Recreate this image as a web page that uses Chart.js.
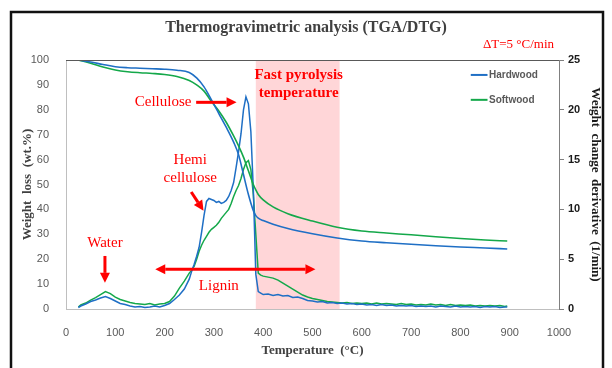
<!DOCTYPE html>
<html><head><meta charset="utf-8">
<script src="https://cdn.jsdelivr.net/npm/chart.js@4.4.0/dist/chart.umd.min.js"></script>
<style>html,body{margin:0;padding:0;background:#fff;}canvas{display:block;}</style>
</head><body>
<canvas id="c" width="612" height="368"></canvas>
<script>
const chartTitle = 'Thermogravimetric analysis (TGA/DTG)';
const seriesNames = ['Hardwood', 'Softwood'];
const xAxisTitle = 'Temperature  (\u00B0C)';
const leftAxisTitle = 'Weight  loss  (wt.%)';
const rightAxisTitle = 'Weight  change  derivative  (1/min)';
const heatingRateNote = '\u0394T=5 \u00B0C/min';

// TGA (left axis, wt.%)
const tgaTemperature = [25, 50, 75, 100, 125, 150, 175, 200, 225, 250, 265, 280, 295, 310, 325, 340, 350, 360, 370, 380, 385, 390, 400, 420, 450, 500, 550, 600, 650, 700, 750, 800, 850, 895];
const hardwoodTGA = [100, 99.2, 98.2, 97.3, 96.9, 96.7, 96.5, 96.3, 95.9, 95.0, 92.8, 89.2, 84.0, 78.5, 73.0, 67.0, 62.0, 54.0, 46.0, 39.5, 37.5, 36.5, 35.5, 34.0, 32.3, 30.2, 28.5, 27.3, 26.6, 26.0, 25.4, 24.9, 24.5, 24.1];
const softwoodTGA = [100, 98.7, 97.2, 96.0, 95.3, 94.9, 94.6, 94.2, 93.4, 91.8, 90.0, 87.5, 83.3, 79.5, 75.0, 69.5, 65.5, 61.0, 55.5, 50.0, 47.8, 46.0, 43.8, 41.0, 38.3, 35.3, 32.8, 31.3, 30.5, 29.8, 29.0, 28.3, 27.7, 27.3];

// DTG (right axis, 1/min)
const dtgTemperature = [25, 30, 40, 50, 60, 70, 80, 90, 100, 110, 120, 130, 140, 150, 160, 170, 180, 190, 200, 210, 220, 230, 240, 250,
  255, 260, 265, 270, 275, 280, 285, 290, 295, 300, 305, 310, 315, 320, 325, 330, 335, 340, 345, 350, 355, 360, 365, 370, 375, 380, 385, 390, 395, 400,
  410, 420, 430, 440, 450, 460, 470, 480, 490, 500, 510, 520, 530, 540, 550, 560, 570, 580, 590, 600, 610, 620, 630, 640, 650, 660, 670, 680, 690, 700,
  710, 720, 730, 740, 750, 760, 770, 780, 790, 800, 810, 820, 830, 840, 850, 860, 870, 880, 890, 895];
const hardwoodDTG = [0.15, 0.3, 0.5, 0.75, 0.9, 1.1, 1.25, 1.05, 0.8, 0.55, 0.45, 0.3, 0.2, 0.25, 0.15, 0.2, 0.3, 0.2, 0.35, 0.55, 0.95, 1.4, 2.0, 3.0,
  3.8, 4.5, 5.3, 6.2, 7.7, 9.4, 10.8, 11.1, 11.0, 10.9, 10.7, 10.8, 10.6, 10.7, 10.9, 11.3, 11.9, 12.7, 14.2, 15.8, 17.6, 20.0, 21.3, 20.6, 17.8, 12.0, 3.5, 1.75, 1.6, 1.45,
  1.5, 1.35, 1.45, 1.3, 1.35, 1.15, 1.2, 1.05, 0.85, 0.8, 0.7, 0.75, 0.6, 0.65, 0.55, 0.6, 0.5, 0.55, 0.45, 0.5, 0.4, 0.45, 0.35, 0.45, 0.35, 0.4, 0.3, 0.35, 0.3, 0.35,
  0.25, 0.3, 0.25, 0.3, 0.2, 0.3, 0.25, 0.2, 0.3, 0.2, 0.25, 0.2, 0.25, 0.15, 0.25, 0.2, 0.25, 0.15, 0.2, 0.2];
const softwoodDTG = [0.2, 0.4, 0.6, 0.9, 1.15, 1.45, 1.75, 1.55, 1.2, 0.95, 0.8, 0.65, 0.55, 0.5, 0.45, 0.55, 0.4, 0.5, 0.55, 0.75, 1.3, 2.1, 2.8, 3.6,
  3.9, 4.3, 5.0, 5.8, 6.4, 6.9, 7.3, 7.7, 8.0, 8.2, 8.4, 8.7, 9.1, 9.4, 9.7, 10.0, 10.6, 11.3, 11.9, 12.4, 13.1, 14.0, 14.7, 14.9, 14.0, 11.5, 7.5, 3.6, 3.4, 3.3,
  3.2, 3.1, 2.9, 2.6, 2.3, 2.0, 1.7, 1.4, 1.2, 1.05, 0.95, 0.85, 0.75, 0.7, 0.65, 0.6, 0.65, 0.55, 0.6, 0.55, 0.6, 0.5, 0.6, 0.5, 0.55, 0.5, 0.45, 0.55, 0.45, 0.5,
  0.4, 0.45, 0.4, 0.5, 0.4, 0.45, 0.35, 0.45, 0.35, 0.4, 0.35, 0.4, 0.3, 0.35, 0.3, 0.35, 0.3, 0.35, 0.25, 0.3];

const fastPyrolysisRange = [385, 555];

const BLUE = '#1F6FC5';
const GREEN = '#14A84A';
const RED = '#FF0000';

const pts = (xs, ys) => xs.map((x, i) => ({x: x, y: ys[i]}));

function arrowHead(ctx, x2, y2, ang, len, wid) {
  const bx = x2 - len * Math.cos(ang), by = y2 - len * Math.sin(ang);
  ctx.beginPath();
  ctx.moveTo(x2, y2);
  ctx.lineTo(bx + wid / 2 * Math.sin(ang), by - wid / 2 * Math.cos(ang));
  ctx.lineTo(bx - wid / 2 * Math.sin(ang), by + wid / 2 * Math.cos(ang));
  ctx.closePath();
  ctx.fill();
  return [bx, by];
}
function arrow(ctx, x1, y1, x2, y2, both) {
  const ang = Math.atan2(y2 - y1, x2 - x1);
  const len = 10, wid = 10;
  const b = arrowHead(ctx, x2, y2, ang, len, wid);
  let s = [x1, y1];
  if (both) s = arrowHead(ctx, x1, y1, ang + Math.PI, len, wid);
  ctx.beginPath(); ctx.moveTo(s[0], s[1]); ctx.lineTo(b[0], b[1]); ctx.stroke();
}

const decorations = {
  id: 'decorations',
  beforeDraw(chart) {
    const {ctx, width, height} = chart;
    ctx.save();
    ctx.fillStyle = '#ffffff';
    ctx.fillRect(0, 0, width, height);
    ctx.strokeStyle = '#111';
    ctx.lineWidth = 2.5;
    ctx.strokeRect(11, 12, 592, 400);
    ctx.restore();
  },
  beforeDatasetsDraw(chart) {
    const {ctx, chartArea} = chart;
    const xs = chart.scales.x;
    const x1 = xs.getPixelForValue(fastPyrolysisRange[0]);
    const x2 = xs.getPixelForValue(fastPyrolysisRange[1]);
    ctx.save();
    ctx.fillStyle = '#FFD6D8';
    ctx.fillRect(x1, chartArea.top + 1, x2 - x1, chartArea.bottom - chartArea.top - 1);
    ctx.restore();
  },
  afterDatasetsDraw(chart) {
    const {ctx, chartArea} = chart;
    const px = v => chart.scales.x.getPixelForValue(v);
    const py = v => chart.scales.y.getPixelForValue(v);
    ctx.save();
    // top frame line
    ctx.strokeStyle = '#595959'; ctx.lineWidth = 1;
    ctx.beginPath(); ctx.moveTo(chartArea.left, chartArea.top + 0.5); ctx.lineTo(chartArea.right, chartArea.top + 0.5); ctx.stroke();

    ctx.fillStyle = RED; ctx.strokeStyle = RED; ctx.lineWidth = 3;
    ctx.textAlign = 'center'; ctx.textBaseline = 'middle';
    ctx.font = '15px "Liberation Serif"';
    ctx.fillText('Cellulose', px(197), py(83));
    arrow(ctx, px(264), py(83), px(346), py(83));
    ctx.fillText('Hemi', px(252), py(59.8));
    ctx.fillText('cellulose', px(252), py(52.6));
    arrow(ctx, px(254), py(47), px(279), py(39.5));
    ctx.fillText('Water', px(79), py(26.5));
    arrow(ctx, px(79), py(21.3), px(79), py(10.5));
    arrow(ctx, px(181), py(16), px(506), py(16), true);
    ctx.fillText('Lignin', px(310), py(9.2));
    ctx.font = 'bold 15px "Liberation Serif"';
    ctx.fillText('Fast pyrolysis', px(472), py(94));
    ctx.fillText('temperature', px(472), py(86.8));
    ctx.font = '13px "Liberation Serif"';
    ctx.textAlign = 'right';
    ctx.fillText(heatingRateNote, px(990), py(106));

    // legend
    const colors = [BLUE, GREEN];
    const ly = [94, 84];
    ctx.lineWidth = 2;
    ctx.textAlign = 'left';
    ctx.font = 'bold 10px "Liberation Sans"';
    seriesNames.forEach((name, i) => {
      ctx.strokeStyle = colors[i];
      ctx.beginPath(); ctx.moveTo(px(821), py(ly[i])); ctx.lineTo(px(855), py(ly[i])); ctx.stroke();
      ctx.fillStyle = '#595959';
      ctx.fillText(name, px(858), py(ly[i]));
    });
    ctx.restore();
  }
};

const tickFont = {family: '"Liberation Sans"', size: 11};
const titleFont = {family: '"Liberation Serif"', size: 13, weight: 'bold'};

new Chart(document.getElementById('c'), {
  type: 'line',
  data: {
    datasets: [
      {label: seriesNames[0] + ' TGA', data: pts(tgaTemperature, hardwoodTGA), yAxisID: 'y', borderColor: BLUE, borderWidth: 1.6, pointRadius: 0, cubicInterpolationMode: 'monotone', fill: false},
      {label: seriesNames[1] + ' TGA', data: pts(tgaTemperature, softwoodTGA), yAxisID: 'y', borderColor: GREEN, borderWidth: 1.6, pointRadius: 0, cubicInterpolationMode: 'monotone', fill: false},
      {label: seriesNames[0] + ' DTG', data: pts(dtgTemperature, hardwoodDTG), yAxisID: 'y2', borderColor: BLUE, borderWidth: 1.5, pointRadius: 0, tension: 0, fill: false},
      {label: seriesNames[1] + ' DTG', data: pts(dtgTemperature, softwoodDTG), yAxisID: 'y2', borderColor: GREEN, borderWidth: 1.5, pointRadius: 0, tension: 0, fill: false}
    ]
  },
  options: {
    responsive: false,
    animation: false,
    devicePixelRatio: 1,
    layout: {padding: 0},
    plugins: {
      legend: {display: false},
      tooltip: {enabled: false},
      title: {display: true, text: chartTitle, color: '#404040', font: {family: '"Liberation Serif"', size: 16, weight: 'bold'}, padding: {top: 18, bottom: 22.8}}
    },
    scales: {
      x: {
        type: 'linear', min: 0, max: 1000,
        ticks: {stepSize: 100, color: '#595959', font: tickFont, padding: 9, maxRotation: 0, callback: v => String(v)},
        grid: {display: false},
        border: {display: true, color: '#BFBFBF'},
        title: {display: true, text: xAxisTitle, color: '#404040', font: titleFont, padding: {top: 0, bottom: 10}},
        afterFit(s) { s.height = 59; }
      },
      y: {
        position: 'left', min: 0, max: 100,
        ticks: {stepSize: 10, color: '#595959', font: tickFont, padding: 9},
        grid: {display: false},
        border: {display: true, color: '#BFBFBF'},
        title: {display: true, text: leftAxisTitle, color: '#404040', font: titleFont, padding: {top: 20, bottom: 0}},
        afterFit(s) { s.width = 66; }
      },
      y2: {
        position: 'right', min: 0, max: 25,
        ticks: {stepSize: 5, color: '#1a1a1a', font: {family: '"Liberation Sans"', size: 11, weight: 'bold'}, padding: 4},
        grid: {display: true, drawOnChartArea: false, drawTicks: true, tickLength: 5, color: '#808080'},
        border: {display: true, color: '#808080'},
        title: {display: true, text: rightAxisTitle, color: '#1a1a1a', font: titleFont, padding: {top: 9, bottom: 0}},
        afterFit(s) { s.width = 53; }
      }
    }
  },
  plugins: [decorations]
});
</script>
</body></html>
